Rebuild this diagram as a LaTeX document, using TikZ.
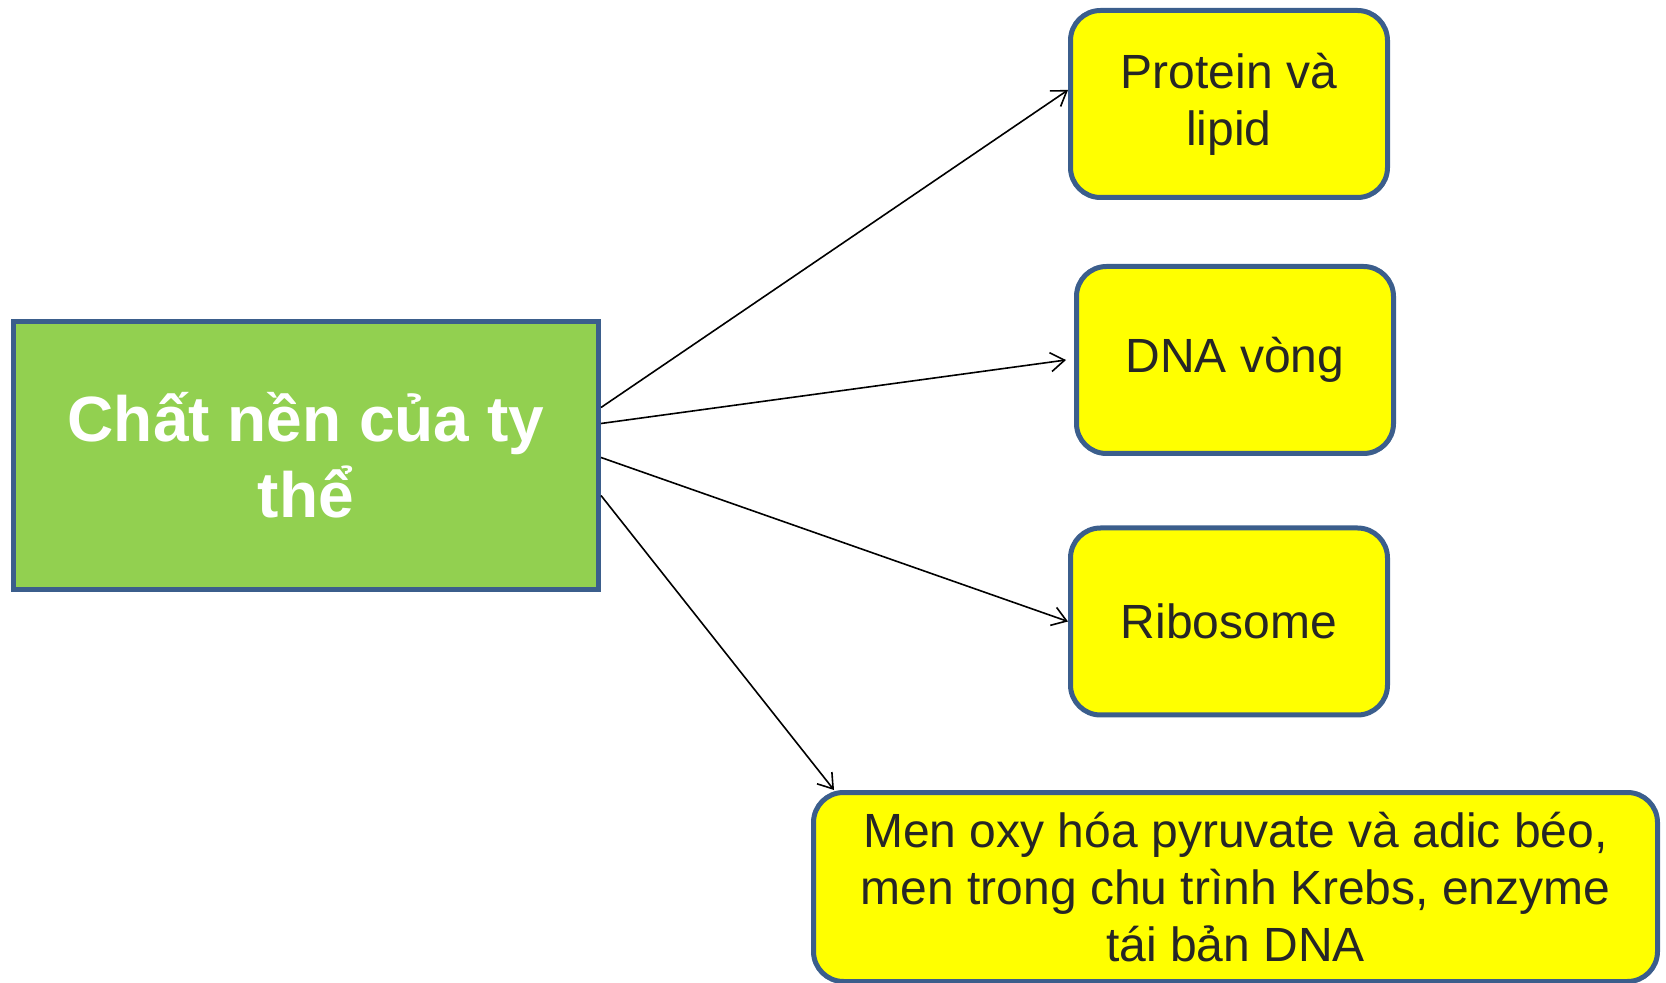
\documentclass[tikz,border=0pt]{standalone}
\usepackage{fontspec}
\setmainfont{Liberation Sans}
\usetikzlibrary{positioning, arrows.meta}
\definecolor{boxedge}{HTML}{3B5E8C}
\definecolor{matgreen}{HTML}{92D050}
\definecolor{partyellow}{HTML}{FFFF00}
\tikzset{
x=0.5pt, y=-0.5pt, % one unit is one pixel of the slide
matbox/.style={draw=boxedge, line width=2.5pt, fill=matgreen, inner sep=0pt,
  minimum width=292.5pt, minimum height=134pt, align=center,
  text=white, font=\bfseries\fontsize{32}{38}\selectfont}, % the green box on the left
partbox/.style={draw=boxedge, line width=2.5pt, fill=partyellow, rounded corners=15pt,
  inner sep=0pt, minimum width=158.5pt, minimum height=93.5pt, align=center,
  text=black!85, font=\fontsize{24}{28.5}\selectfont}, % the yellow boxes
link/.style={->, >={Straight Barb[length=7pt,width=9.5pt]}, line width=0.8pt}, % thin open arrows
}
\begin{document}
\begin{tikzpicture}
    \useasboundingbox (0,0) rectangle (1666,983);
    \node[matbox] (mat) at (306,455.5) {Chất nền của ty\\thể};
    \node[partbox] (prot) at (1229,104) {Protein và\\lipid};
    \node[partbox] (dna) at (1235,360) {DNA vòng};
    \node[partbox] (ribo) at (1229,621.5) {Ribosome};
    \node[partbox, minimum width=422pt, minimum height=94.5pt] (enz) at (1235.5,887)
      {Men oxy hóa pyruvate và adic béo,\\men trong chu trình Krebs, enzyme\\tái bản DNA};
    \draw[link] ([yshift=24pt]mat.east) -- ([yshift=7pt]prot.west);
    \draw[link] ([yshift=16pt]mat.east) -- ([xshift=-4pt]dna.west);
    \draw[link] ([yshift=-1pt]mat.east) -- (ribo.west);
    \draw[link] ([yshift=-20pt]mat.east) -- ([xshift=11.5pt]enz.north west);
  \end{tikzpicture}
\end{document}
